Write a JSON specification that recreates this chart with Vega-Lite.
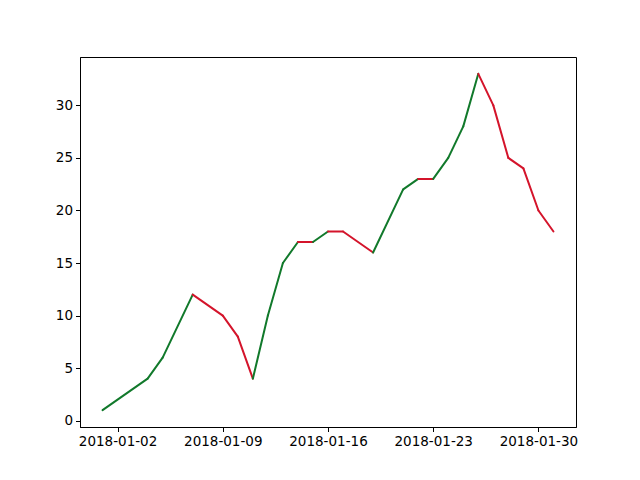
{
  "$schema": "https://vega.github.io/schema/vega-lite/v6.json",
  "width": 496,
  "height": 370,
  "autosize": {"type": "none"},
  "padding": {"left": 80, "top": 57, "right": 64, "bottom": 53},
  "background": "white",
  "config": {
    "view": {"stroke": "black", "strokeWidth": 1},
    "axis": {
      "domainColor": "black",
      "tickColor": "black",
      "labelColor": "black",
      "labelFont": "DejaVu Sans",
      "labelFontSize": 13.5,
      "tickSize": 4.5,
      "labelPadding": 3,
      "grid": false,
      "title": null
    }
  },
  "data": {
    "values": [
      {"d1": "2018-01-01T00:00:00", "v1": 1, "d2": "2018-01-04T00:00:00", "v2": 4, "dir": "up"},
      {"d1": "2018-01-04T00:00:00", "v1": 4, "d2": "2018-01-05T00:00:00", "v2": 6, "dir": "up"},
      {"d1": "2018-01-05T00:00:00", "v1": 6, "d2": "2018-01-07T00:00:00", "v2": 12, "dir": "up"},
      {"d1": "2018-01-07T00:00:00", "v1": 12, "d2": "2018-01-09T00:00:00", "v2": 10, "dir": "down"},
      {"d1": "2018-01-09T00:00:00", "v1": 10, "d2": "2018-01-10T00:00:00", "v2": 8, "dir": "down"},
      {"d1": "2018-01-10T00:00:00", "v1": 8, "d2": "2018-01-11T00:00:00", "v2": 4, "dir": "down"},
      {"d1": "2018-01-11T00:00:00", "v1": 4, "d2": "2018-01-12T00:00:00", "v2": 10, "dir": "up"},
      {"d1": "2018-01-12T00:00:00", "v1": 10, "d2": "2018-01-13T00:00:00", "v2": 15, "dir": "up"},
      {"d1": "2018-01-13T00:00:00", "v1": 15, "d2": "2018-01-14T00:00:00", "v2": 17, "dir": "up"},
      {"d1": "2018-01-14T00:00:00", "v1": 17, "d2": "2018-01-15T00:00:00", "v2": 17, "dir": "down"},
      {"d1": "2018-01-15T00:00:00", "v1": 17, "d2": "2018-01-16T00:00:00", "v2": 18, "dir": "up"},
      {"d1": "2018-01-16T00:00:00", "v1": 18, "d2": "2018-01-17T00:00:00", "v2": 18, "dir": "down"},
      {"d1": "2018-01-17T00:00:00", "v1": 18, "d2": "2018-01-19T00:00:00", "v2": 16, "dir": "down"},
      {"d1": "2018-01-19T00:00:00", "v1": 16, "d2": "2018-01-21T00:00:00", "v2": 22, "dir": "up"},
      {"d1": "2018-01-21T00:00:00", "v1": 22, "d2": "2018-01-22T00:00:00", "v2": 23, "dir": "up"},
      {"d1": "2018-01-22T00:00:00", "v1": 23, "d2": "2018-01-23T00:00:00", "v2": 23, "dir": "down"},
      {"d1": "2018-01-23T00:00:00", "v1": 23, "d2": "2018-01-24T00:00:00", "v2": 25, "dir": "up"},
      {"d1": "2018-01-24T00:00:00", "v1": 25, "d2": "2018-01-25T00:00:00", "v2": 28, "dir": "up"},
      {"d1": "2018-01-25T00:00:00", "v1": 28, "d2": "2018-01-26T00:00:00", "v2": 33, "dir": "up"},
      {"d1": "2018-01-26T00:00:00", "v1": 33, "d2": "2018-01-27T00:00:00", "v2": 30, "dir": "down"},
      {"d1": "2018-01-27T00:00:00", "v1": 30, "d2": "2018-01-28T00:00:00", "v2": 25, "dir": "down"},
      {"d1": "2018-01-28T00:00:00", "v1": 25, "d2": "2018-01-29T00:00:00", "v2": 24, "dir": "down"},
      {"d1": "2018-01-29T00:00:00", "v1": 24, "d2": "2018-01-30T00:00:00", "v2": 20, "dir": "down"},
      {"d1": "2018-01-30T00:00:00", "v1": 20, "d2": "2018-01-31T00:00:00", "v2": 18, "dir": "down"}
    ]
  },
  "mark": {"type": "rule", "strokeWidth": 2, "strokeCap": "round"},
  "encoding": {
    "x": {
      "field": "d1",
      "type": "temporal",
      "scale": {
        "domain": [
          {"year": 2017, "month": 12, "date": 30, "hours": 12},
          {"year": 2018, "month": 2, "date": 1, "hours": 12}
        ],
        "nice": false
      },
      "axis": {
        "values": [
          {"year": 2018, "month": 1, "date": 2},
          {"year": 2018, "month": 1, "date": 9},
          {"year": 2018, "month": 1, "date": 16},
          {"year": 2018, "month": 1, "date": 23},
          {"year": 2018, "month": 1, "date": 30}
        ],
        "format": "%Y-%m-%d",
        "labelAngle": 0,
        "labelFlush": false,
        "labelOverlap": false
      }
    },
    "x2": {"field": "d2"},
    "y": {
      "field": "v1",
      "type": "quantitative",
      "scale": {"domain": [-0.6, 34.6], "nice": false, "zero": false},
      "axis": {"values": [0, 5, 10, 15, 20, 25, 30], "labelFlush": false, "labelOverlap": false}
    },
    "y2": {"field": "v2"},
    "color": {
      "field": "dir",
      "type": "nominal",
      "scale": {"domain": ["up", "down"], "range": ["#11792b", "#d4142b"]},
      "legend": null
    }
  }
}
